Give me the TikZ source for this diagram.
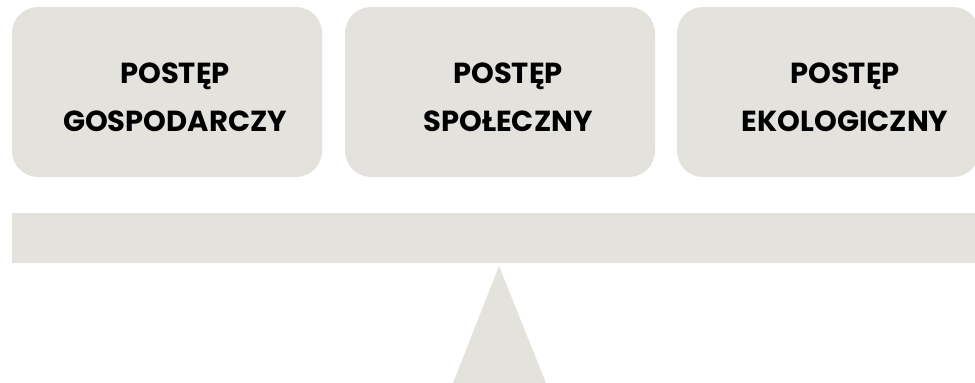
\documentclass[tikz,border=0pt]{standalone}
\usepackage{fontspec}
\setmainfont{Poppins}[UprightFont=* Bold]
\definecolor{panel}{HTML}{E4E2DD}
\begin{document}
\begin{tikzpicture}[x=1pt,y=-1pt,
  pillar/.style={fill=panel,draw=none,rounded corners=26pt},
  label/.style={font=\fontsize{29}{34}\selectfont,anchor=base,inner sep=0pt,text=black}]
\useasboundingbox (0,0) rectangle (975,383);
\clip (0,0) rectangle (975,383);
% three pillars of progress
\fill[pillar] (12,7) rectangle (322,177);
\fill[pillar] (345,7) rectangle (655,177);
\fill[pillar] (677,7) rectangle (979,177);
\node[label] (eco1) at (175,83) {POSTĘP};
\node[label] (eco2) at (175,131) {GOSPODARCZY};
\node[label] (soc1) at (508,83) {POSTĘP};
\node[label] (soc2) at (508,131) {SPOŁECZNY};
\node[label] (env1) at (845,83) {POSTĘP};
\node[label] (env2) at (845,131) {EKOLOGICZNY};
% balance beam on its fulcrum
\fill[panel] (12,213) rectangle (975,263);
\fill[panel] (499,266) -- (546,383) -- (453,383) -- cycle;
\end{tikzpicture}
\end{document}
